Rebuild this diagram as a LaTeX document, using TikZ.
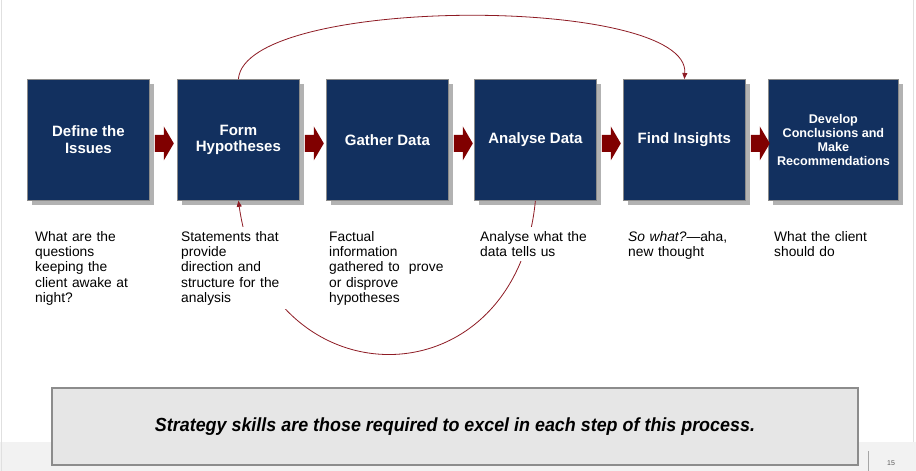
\documentclass[tikz,border=0pt]{standalone}
\usepackage{fontspec}
\setmainfont{Liberation Sans}
\usepackage{graphicx}
\usetikzlibrary{shadows,arrows.meta,calc}
\definecolor{navy}{HTML}{12305F}
\definecolor{boxedge}{HTML}{8A8A8A}
\definecolor{curvered}{HTML}{8E1B24}
\definecolor{blockred}{HTML}{800000}
\definecolor{stripgray}{HTML}{F2F2F2}
\definecolor{bannerfill}{HTML}{E6E6E6}
\definecolor{banneredge}{HTML}{8C8C8C}
\definecolor{edgegray}{HTML}{E0E0E0}
\begin{document}
\begin{tikzpicture}[x=1pt,y=-1pt,
  stepbox/.style={draw=boxedge, line width=0.8pt, fill=navy, minimum width=122pt,
    minimum height=121pt, anchor=north west, text=white,
    font=\fontsize{15}{16.7}\selectfont\bfseries, align=center, inner sep=2pt,
    drop shadow={shadow xshift=5pt, shadow yshift=-5pt, fill=black!30, opacity=1}},
  desc/.style={anchor=north west, fill=white, text width=112pt, align=left,
    inner sep=4pt, font=\fontsize{13.8}{15.3}\selectfont},
  loopline/.style={draw=curvered, line width=0.8pt, -{Triangle[length=6pt,width=5pt]}},
]
\useasboundingbox (0,0) rectangle (916,471);
% background
\fill[white] (0,0) rectangle (916,471);
\fill[stripgray] (0,442) rectangle (916,471);
\draw[edgegray, line width=1pt] (1,0) -- (1,471);
\draw[edgegray, line width=1pt] (913.5,0) -- (913.5,442);
\draw[black!35, line width=0.8pt] (868,451) -- (868,471);

% step boxes
\node[stepbox] (b1) at (27,79) {Define the\\Issues};
\node[stepbox] (b2) at (177,79) {Form\\Hypotheses};
\node[stepbox] (b3) at (326,79) {Gather Data};
\node[stepbox] (b4) at (474,79) {Analyse Data};
\node[stepbox] (b5) at (623,79) {Find Insights};
\node[stepbox, minimum width=130pt, font=\fontsize{12.6}{13.8}\selectfont\bfseries] (b6) at (768,79)
  {Develop\\Conclusions and\\Make\\Recommendations};

% block arrows between boxes
\foreach \a/\b in {b1/b2,b2/b3,b3/b4,b4/b5,b5/b6}{
  \fill[blockred] ($(\a.east)+(5,-5)$) -- ($(\a.east)+(14,-5)$) -- ($(\a.east)+(14,-13.5)$)
    -- ($(\a.east)+(24,3.5)$) -- ($(\a.east)+(14,20.5)$) -- ($(\a.east)+(14,12)$)
    -- ($(\a.east)+(5,12)$) -- cycle;
}

% loops
\draw[loopline] (b2.north) .. controls ($(b2.north)+(7,-84)$) and ($(b5.north)+(6,-84)$) .. (b5.north);
\draw[loopline] (b4.south) .. controls ($(b4.south)+(-20,204)$) and ($(b2.south)+(29,204)$) .. (b2.south);

% descriptions
\node[desc] (d1) at (31,227) {What are the\\questions\\keeping the\\client awake at\\night?};
\node[desc] (d2) at (177,227) {Statements that\\provide\\direction and\\structure for the\\analysis};
\node[desc, text width=118pt] (d3) at (325,227) {Factual\\information\\gathered to~ prove\\or disprove\\hypotheses};
\node[desc] (d4) at (476,227) {Analyse what the\\data tells us};
\node[desc] (d5) at (624,227) {\textit{So what?}—aha,\\new thought};
\node[desc] (d6) at (770,227) {What the client\\should do};

% banner
\node[draw=banneredge, line width=1.5pt, fill=bannerfill, minimum width=806pt,
  minimum height=77pt, inner sep=0pt] (banner) at (455,426.5)
  {\resizebox{600pt}{\height}{\fontsize{19}{21}\selectfont\bfseries\itshape Strategy skills are those required to excel in each step of this process.}};

% page number
\node[text=black!65, font=\fontsize{7}{8}\selectfont, inner sep=0pt] (pnum) at (891,463) {15};
\end{tikzpicture}
\end{document}
